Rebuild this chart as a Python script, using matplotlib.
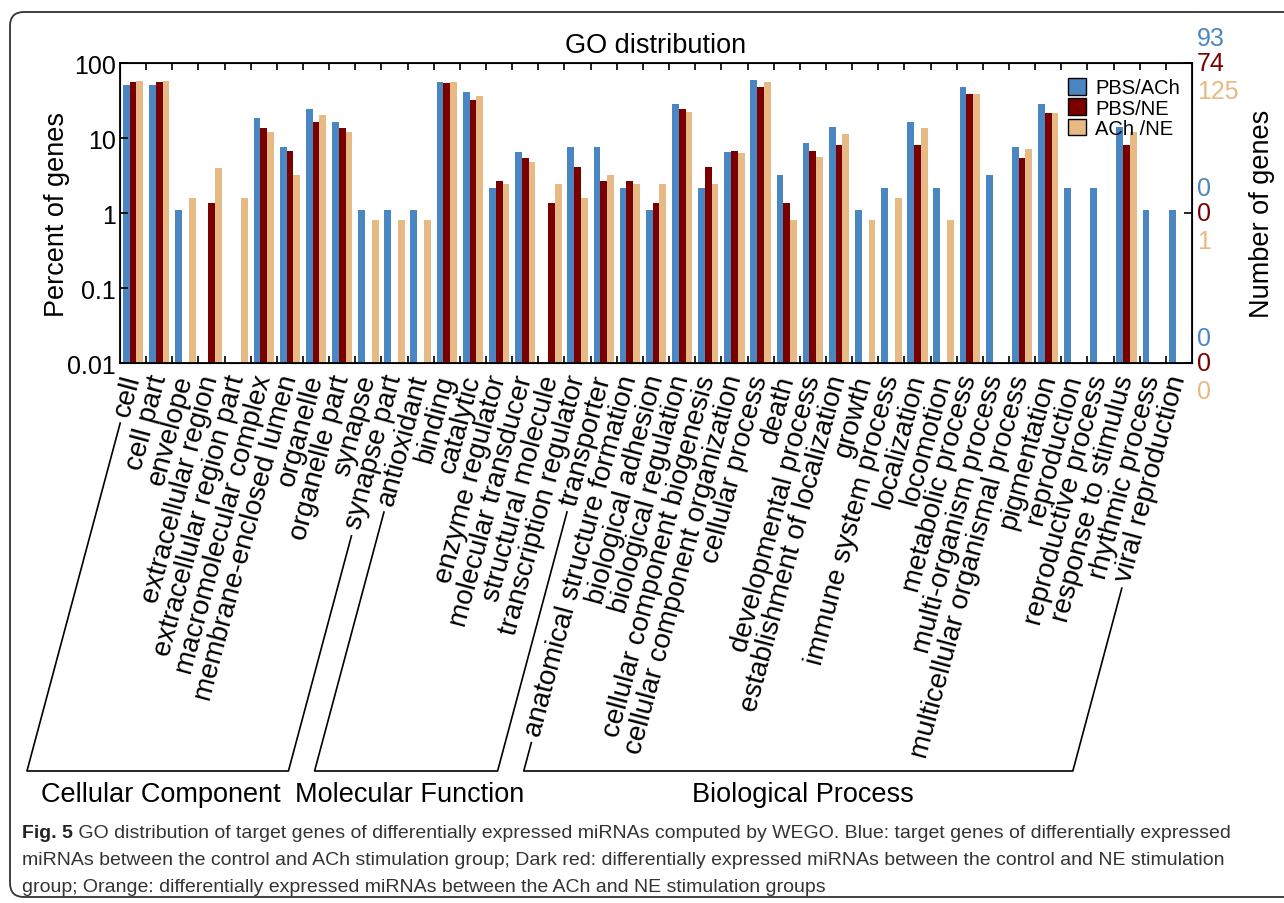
import numpy as np
import matplotlib
matplotlib.use('Agg')
import matplotlib.pyplot as plt
from matplotlib import font_manager
from matplotlib.patches import Patch, FancyBboxPatch
from matplotlib.lines import Line2D
from matplotlib.transforms import IdentityTransform, offset_copy
from matplotlib.ticker import NullLocator

categories = [
    'cell', 'cell part', 'envelope', 'extracellular region',
    'extracellular region part', 'macromolecular complex',
    'membrane-enclosed lumen', 'organelle', 'organelle part', 'synapse',
    'synapse part',
    'antioxidant', 'binding', 'catalytic', 'enzyme regulator',
    'molecular transducer', 'structural molecule', 'transcription regulator',
    'transporter',
    'anatomical structure formation', 'biological adhesion',
    'biological regulation', 'cellular component biogenesis',
    'cellular component organization', 'cellular process', 'death',
    'developmental process', 'establishment of localization', 'growth',
    'immune system process', 'localization', 'locomotion',
    'metabolic process', 'multi-organism process',
    'multicellular organismal process', 'pigmentation', 'reproduction',
    'reproductive process', 'response to stimulus', 'rhythmic process',
    'viral reproduction',
]

# GO level-1 groups: (name, first index, last index)
groups = [('Cellular Component', 0, 10),
          ('Molecular Function', 11, 18),
          ('Biological Process', 19, 40)]

# percent of genes per term (0 = no genes)
pbs_ach = [51.6, 51.6, 1.08, 0, 0, 18.3, 7.53, 24.7, 16.1, 1.08, 1.08,
           1.08, 55.9, 40.9, 2.15, 6.45, 0, 7.53, 7.53,
           2.15, 1.08, 28.0, 2.15, 6.45, 60.2, 3.23, 8.60, 14.0, 1.08,
           2.15, 16.1, 2.15, 47.3, 3.23, 7.53, 28.0, 2.15, 2.15, 14.0,
           1.08, 1.08]
pbs_ne = [55.4, 55.4, 0, 1.35, 0, 13.5, 6.76, 16.2, 13.5, 0, 0,
          0, 54.1, 32.4, 2.70, 5.41, 1.35, 4.05, 2.70,
          2.70, 1.35, 24.3, 4.05, 6.76, 48.6, 1.35, 6.76, 8.11, 0,
          0, 8.11, 0, 39.2, 0, 5.41, 21.6, 0, 0, 8.11,
          0, 0]
ach_ne = [57.6, 57.6, 1.6, 4.0, 1.6, 12.0, 3.2, 20.0, 12.0, 0.8, 0.8,
          0.8, 56.0, 36.8, 2.4, 4.8, 2.4, 1.6, 3.2,
          2.4, 2.4, 22.4, 2.4, 6.4, 56.0, 0.8, 5.6, 11.2, 0.8,
          1.6, 13.6, 0.8, 39.2, 0, 7.2, 21.6, 0, 0, 12.0,
          0, 0]

series_names = ['PBS/ACh', 'PBS/NE', 'ACh /NE']
gene_totals = [93, 74, 125]
colors = ['#4A86C1', '#7A0000', '#E6B985']

y_ticks = [100, 10, 1, 0.1, 0.01]
y_ticklabels = ['100', '10', '1', '0.1', '0.01']
right_ticks = [100, 1, 0.01]

caption_bold = 'Fig. 5'
caption_lines = [
    ' GO distribution of target genes of differentially expressed miRNAs computed by WEGO. Blue: target genes of differentially expressed',
    'miRNAs between the control and ACh stimulation group; Dark red: differentially expressed miRNAs between the control and NE stimulation',
    'group; Orange: differentially expressed miRNAs between the ACh and NE stimulation groups',
]

plt.rcParams['font.family'] = ['Liberation Sans', 'DejaVu Sans']
installed = {f.name for f in font_manager.fontManager.ttflist}
cap_family = 'Liberation Sans Narrow' if 'Liberation Sans Narrow' in installed else 'Liberation Sans'

W, H = 1284, 904
fig = plt.figure(figsize=(W / 100, H / 100), dpi=100)
ax = fig.add_axes([120 / W, 1 - 364 / H, 1072 / W, 300 / H])

x = np.arange(len(categories))
bw = 0.26
for k, vals in enumerate([pbs_ach, pbs_ne, ach_ne]):
    ax.bar(x + (k - 1) * bw, vals, bw, color=colors[k], log=True,
           linewidth=0)

ax.set_xlim(-0.5, len(categories) - 0.5)
ax.set_ylim(0.01, 100)
ax.set_yticks(y_ticks)
ax.set_yticklabels(y_ticklabels)
ax.yaxis.set_minor_locator(NullLocator())
ax.set_xticks(np.arange(0.5, len(categories) - 1, 1))
ax.set_xticklabels([])
ax.tick_params(axis='x', direction='in', top=True, bottom=True, length=5,
               width=1.2)
ax.tick_params(axis='y', direction='in', length=6, width=1.2, labelsize=18,
               pad=3)
for sp in ax.spines.values():
    sp.set_linewidth(1.3)

# right axis: number of genes behind each percent tick
ax2 = ax.twinx()
ax2.set_yscale('log')
ax2.set_ylim(0.01, 100)
ax2.set_yticks(right_ticks)
ax2.set_yticklabels([])
ax2.yaxis.set_minor_locator(NullLocator())
ax2.tick_params(axis='y', direction='in', length=6, width=1.2)
shifts = [25, 0, -28]
for k, total in enumerate(gene_totals):
    tr = offset_copy(ax.get_yaxis_transform(), fig=fig, x=5, y=shifts[k],
                     units='dots')
    for t in right_ticks:
        ax.text(1, t, str(int(total * t / 100)), transform=tr,
                color=colors[k], fontsize=18, ha='left', va='center')

ax.set_title('GO distribution', fontsize=19.5, pad=8)
ax.set_ylabel('Percent of genes', fontsize=19.5)
ax.yaxis.set_label_coords(-0.047, 0.5)
fig.text(1262 / W, 1 - 214 / H, 'Number of genes', fontsize=19.5,
         rotation=90, ha='center', va='center')

handles = [Patch(facecolor=c, edgecolor='black', linewidth=1) for c in colors]
leg = ax2.legend(handles, series_names, loc='upper right',
                 bbox_to_anchor=(1 - 4 / 1072, 1 - 7 / 300),
                 borderaxespad=0, fontsize=14.5, handlelength=0.9,
                 handleheight=0.9, labelspacing=0.05, handletextpad=0.45,
                 borderpad=0.4, fancybox=False, framealpha=0)
leg.get_frame().set_edgecolor('black')
leg.get_frame().set_linewidth(1.2)

# category labels, slanted, ending just under each bar group
angle = 75
lab_size = 20
lab_tr = offset_copy(ax.get_xaxis_transform(), fig=fig, x=0, y=-12,
                     units='dots')
labels = []
for i, name in enumerate(categories):
    labels.append(ax.text(i, 0, name, transform=lab_tr, rotation=angle,
                          ha='right', va='center', rotation_mode='anchor',
                          fontsize=lab_size))

fig.canvas.draw()
renderer = fig.canvas.get_renderer()
c, s = np.cos(np.radians(angle)), np.sin(np.radians(angle))
y_floor = H - 772
ident = IdentityTransform()


def label_tail(i):
    # bottom end of a slanted label, in display pixels
    ax_x, ax_y = ax.get_xaxis_transform().transform((i, 0))
    ax_y -= 12
    w, _, _ = renderer.get_text_width_height_descent(
        categories[i], labels[i].get_fontproperties(), ismath=False)
    return ax_x - (w + 8) * c, ax_y - (w + 8) * s


group_x = [161, 410, 803]
for (gname, i0, i1), gx in zip(groups, group_x):
    x0, y0 = label_tail(i0)
    x1, y1 = label_tail(i1)
    bx0 = x0 - (y0 - y_floor) / s * c
    bx1 = x1 - (y1 - y_floor) / s * c
    fig.add_artist(Line2D([x0, bx0, bx1, x1], [y0, y_floor, y_floor, y1],
                          color='black', linewidth=1.2, transform=ident))
    fig.text(gx / W, 1 - 795 / H, gname, fontsize=19.5, ha='center',
             va='center')

# caption below the figure, fitted to the column width
fp = font_manager.FontProperties(family=cap_family, size=10)
fpb = font_manager.FontProperties(family=cap_family, size=10, weight='bold')
wb, _, _ = renderer.get_text_width_height_descent(caption_bold, fpb, False)
w1, _, _ = renderer.get_text_width_height_descent(caption_lines[0], fp, False)
cap_size = 10 * (1230 - 22) / (wb + w1)
wb *= cap_size / 10
cap_y = [834, 861, 888]
fig.text(22 / W, 1 - cap_y[0] / H, caption_bold, family=cap_family,
         weight='bold', size=cap_size, va='center', color='#222222')
fig.text((22 + wb) / W, 1 - cap_y[0] / H, caption_lines[0],
         family=cap_family, size=cap_size, va='center', color='#333333')
for line, yy in zip(caption_lines[1:], cap_y[1:]):
    fig.text(22 / W, 1 - yy / H, line, family=cap_family, size=cap_size,
             va='center', color='#333333')

frame = FancyBboxPatch((10, 6), 1300, 885,
                       boxstyle='round,pad=0,rounding_size=14',
                       facecolor='none', edgecolor='#333333', linewidth=1.3,
                       transform=ident)
fig.add_artist(frame)

fig.savefig('out.png', dpi=100)
